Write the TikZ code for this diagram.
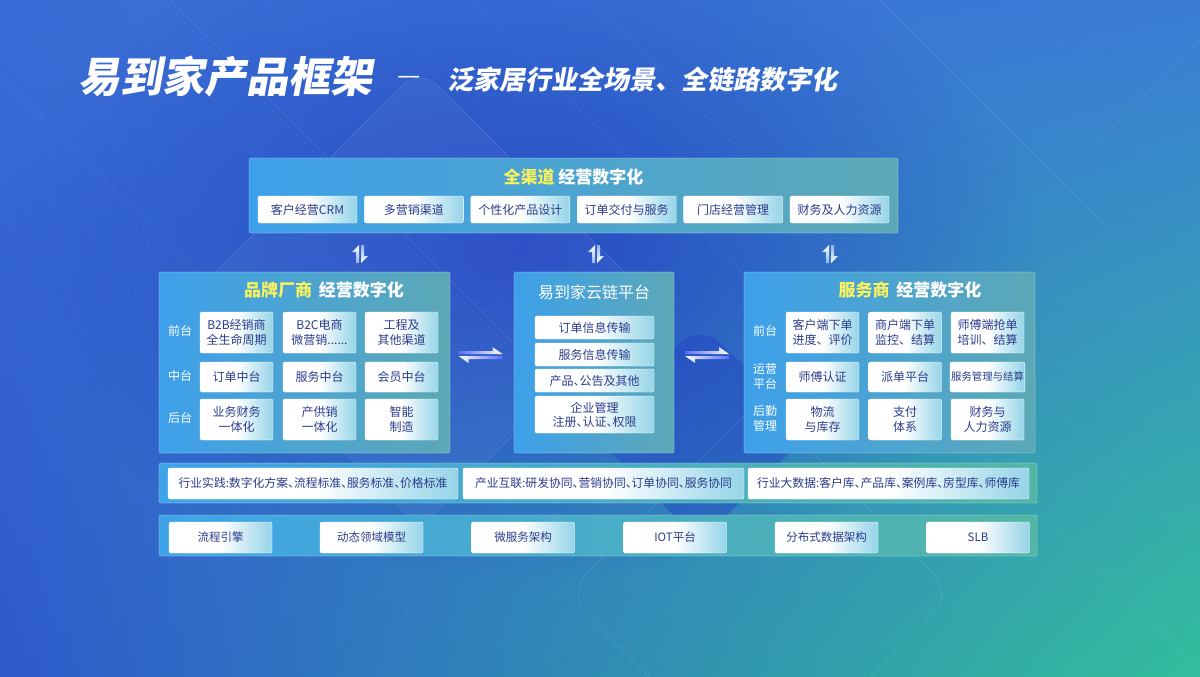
\documentclass[tikz,border=0pt]{standalone}
\usepackage{fontspec}
\setmainfont{Noto Sans CJK SC}
\newfontfamily\ttlfont[FakeSlant=0.18]{Noto Sans CJK SC}
\newfontfamily\hfont[RawFeature=+halt]{Noto Sans CJK SC}
\usetikzlibrary{fadings,shadings}
\tikzfading[name=myfade, inner color=transparent!0, outer color=transparent!100]
\definecolor{bgUL}{HTML}{3A6BD6}
\definecolor{bgUR}{HTML}{3A7BD6}
\definecolor{bgLL}{HTML}{2E5ACC}
\definecolor{bgLR}{HTML}{33BE9C}
\definecolor{bgC}{HTML}{2442C4}
\definecolor{panL}{HTML}{3DA0EA}
\definecolor{panR}{HTML}{5CA8B6}
\definecolor{rowL}{HTML}{3FA3E8}
\definecolor{rowR}{HTML}{52B6A6}
\definecolor{subR}{HTML}{95D4E8}
\definecolor{txt}{HTML}{2B3C8C}
\definecolor{ylw}{HTML}{F7F25E}
\definecolor{afade}{HTML}{8DB2F2}
\pgfdeclarehorizontalshading{subsh}{100bp}{color(0bp)=(white); color(25bp)=(white); color(50bp)=(white); color(75bp)=(subR); color(100bp)=(subR)}
\begin{document}
\begin{tikzpicture}[x=1pt,y=-1pt,
  panel/.style={draw=white, draw opacity=0.25, line width=0.8pt, rounded corners=2pt, left color=panL, right color=panR, inner sep=0pt},
  rowbar/.style={draw=white, draw opacity=0.25, line width=0.8pt, rounded corners=2pt, left color=rowL, right color=rowR, inner sep=0pt},
  sub/.style={draw=white, line width=0.4pt, rounded corners=2pt, shading=subsh, inner sep=1pt, align=center, text=txt, font=\fontsize{12}{14.5}\selectfont},
  lbl/.style={text=white, align=center, font=\fontsize{12}{15}\selectfont},
  ptitle/.style={text=white, font=\fontsize{17}{20}\selectfont\bfseries},
  updown/.pic={
    \shade[top color=white, bottom color=afade] (-1,9) -- (-1,-9) -- (-8,-2) -- (-4,-2) -- (-4,9) -- cycle;
    \shade[top color=afade, bottom color=white] (1,-9) -- (1,9) -- (8,2) -- (4,2) -- (4,-9) -- cycle;
  },
  leftright/.pic={
    \shade[left color=afade!60!blue, right color=white] (-22,-1) -- (22,-1) -- (12,-8) -- (12,-4) -- (-22,-4) -- cycle;
    \shade[left color=white, right color=afade!60!blue] (22,1) -- (-22,1) -- (-12,8) -- (-12,4) -- (22,4) -- cycle;
  }]
\useasboundingbox (0,0) rectangle (1200,677);
% background
\shade[upper left=bgUL, upper right=bgUR, lower left=bgLL, lower right=bgLR] (0,0) rectangle (1200,677);
\fill[bgC, path fading=myfade, opacity=0.85] (520,250) ellipse (520 and 330);
% decorative shapes
\fill[white, opacity=0.04, rounded corners=25] (420,68) -- (650,298) -- (420,528) -- (190,298) -- cycle;
\draw[white, opacity=0.14, line width=0.5pt, rounded corners=25] (420,68) -- (650,298) -- (420,528) -- (190,298) -- cycle;
\fill[bgC, opacity=0.45, rounded corners=30] (700,322) -- (810,432) -- (700,542) -- (590,432) -- cycle;
\draw[white, opacity=0.12, line width=0.5pt, rounded corners=30] (954,594) -- (760,400) -- (566,594) -- (760,788) -- cycle;
\draw[white, opacity=0.12, line width=0.5pt] (170,0) -- (520,350);
\draw[white, opacity=0.10, line width=0.5pt] (0,75) -- (340,415);
\draw[white, opacity=0.10, line width=0.5pt] (470,0) -- (760,290);
\draw[white, opacity=0.10, line width=0.5pt] (590,0) -- (900,310);
\draw[white, opacity=0.10, line width=0.5pt] (880,0) -- (1110,230);
\draw[white, opacity=0.10, line width=0.5pt] (960,430) -- (1200,670);
\draw[white, opacity=0.08, line width=0.5pt] (1040,390) -- (1200,550);
\draw[white, opacity=0.08, line width=0.5pt] (420,600) -- (340,677);
\draw[white, opacity=0.08, line width=0.5pt] (1090,150) -- (1200,40);

% title
\node[anchor=west, text=white, inner sep=0pt, font=\fontsize{42}{46}\selectfont\bfseries\ttlfont] (title) at (78,77) {易到家产品框架};
\node[anchor=west, text=white, inner sep=0pt, font=\fontsize{26}{30}\selectfont] (dash) at (397,80) {—};
\node[anchor=west, text=white, inner sep=0pt, font=\fontsize{26}{30}\selectfont\bfseries\ttlfont] (subtitle) at (447,80) {泛家居行业全场景、全链路数字化};

% top panel
\node[panel, minimum width=649, minimum height=75] (top) at (573.5,195.5) {};
\node[ptitle] (toptitle) at (573.5,177) {\textcolor{ylw}{全渠道} 经营数字化};
\node[sub, minimum width=99, minimum height=27] (t1) at (307.5,209.5) {客户经营CRM};
\node[sub, minimum width=99, minimum height=27] (t2) at (413.9,209.5) {多营销渠道};
\node[sub, minimum width=99, minimum height=27] (t3) at (520.3,209.5) {个性化产品设计};
\node[sub, minimum width=99, minimum height=27] (t4) at (626.7,209.5) {订单交付与服务};
\node[sub, minimum width=99, minimum height=27] (t5) at (733.1,209.5) {门店经营管理};
\node[sub, minimum width=99, minimum height=27] (t6) at (839.5,209.5) {财务及人力资源};

% up-down arrows
\pic (ud1) at (360,254) {updown};
\pic (ud2) at (596,254) {updown};
\pic (ud3) at (830,254) {updown};

% left panel
\node[panel, minimum width=291, minimum height=181] (left) at (304.5,362.5) {};
\node[ptitle] (lefttitle) at (324,290) {\textcolor{ylw}{品牌厂商}\hspace{0.4em}经营数字化};
\node[lbl] (l1) at (180,331) {前台};
\node[lbl] (l2) at (180,376) {中台};
\node[lbl] (l3) at (180,418) {后台};
\node[sub, minimum width=73, minimum height=41] (a11) at (236.5,332.5) {B2B经销商\\全生命周期};
\node[sub, minimum width=73, minimum height=41] (a12) at (319.5,332.5) {B2C电商\\微营销......};
\node[sub, minimum width=73, minimum height=41] (a13) at (401.5,332.5) {工程及\\其他渠道};
\node[sub, minimum width=73, minimum height=30] (a21) at (236.5,377) {订单中台};
\node[sub, minimum width=73, minimum height=30] (a22) at (319.5,377) {服务中台};
\node[sub, minimum width=73, minimum height=30] (a23) at (401.5,377) {会员中台};
\node[sub, minimum width=73, minimum height=41] (a31) at (236.5,419.5) {业务财务\\一体化};
\node[sub, minimum width=73, minimum height=41] (a32) at (319.5,419.5) {产供销\\一体化};
\node[sub, minimum width=73, minimum height=41] (a33) at (401.5,419.5) {智能\\制造};

% middle panel
\node[panel, minimum width=160, minimum height=181] (mid) at (594,362.5) {};
\node[text=white, font=\fontsize{16}{19}\selectfont] (midtitle) at (594,292) {易到家云链平台};
\node[sub, minimum width=119, minimum height=23, font=\fontsize{12}{14}\selectfont\hfont] (m1) at (594.5,327.5) {订单信息传输};
\node[sub, minimum width=119, minimum height=23, font=\fontsize{12}{14}\selectfont\hfont] (m2) at (594.5,354.5) {服务信息传输};
\node[sub, minimum width=119, minimum height=23, font=\fontsize{12}{14}\selectfont\hfont] (m3) at (594.5,380.5) {产品、公告及其他};
\node[sub, minimum width=119, minimum height=37, font=\fontsize{12}{14}\selectfont\hfont] (m4) at (594.5,414.5) {企业管理\\注册、认证、权限};

% left-right arrows
\pic (lr1) at (480.5,355) {leftright};
\pic (lr2) at (707,355) {leftright};

% right panel
\node[panel, minimum width=291, minimum height=181] (right) at (889.5,362.5) {};
\node[ptitle] (righttitle) at (910,290) {\textcolor{ylw}{服务商}\hspace{0.4em}经营数字化};
\node[lbl] (r1) at (765,331) {前台};
\node[lbl] (r2) at (765,376) {运营\\平台};
\node[lbl] (r3) at (765,418) {后勤\\管理};
\node[sub, minimum width=73, minimum height=41] (b11) at (822.5,332.5) {客户端下单\\进度、评价};
\node[sub, minimum width=73, minimum height=41] (b12) at (905,332.5) {商户端下单\\监控、结算};
\node[sub, minimum width=73, minimum height=41] (b13) at (987.5,332.5) {师傅端抢单\\培训、结算};
\node[sub, minimum width=73, minimum height=30] (b21) at (822.5,377) {师傅认证};
\node[sub, minimum width=73, minimum height=30] (b22) at (905,377) {派单平台};
\node[sub, minimum width=73, minimum height=30, font=\fontsize{10.4}{12}\selectfont] (b23) at (987.5,377) {服务管理与结算};
\node[sub, minimum width=73, minimum height=41] (b31) at (822.5,419.5) {物流\\与库存};
\node[sub, minimum width=73, minimum height=41] (b32) at (905,419.5) {支付\\体系};
\node[sub, minimum width=73, minimum height=41] (b33) at (987.5,419.5) {财务与\\人力资源};

% practice row
\node[rowbar, minimum width=878, minimum height=40] (row4) at (598,483) {};
\node[sub, minimum width=290, minimum height=31, font=\fontsize{11.8}{14}\selectfont\hfont] (p1) at (313,483.5) {行业实践:数字化方案、流程标准、服务标准、价格标准};
\node[sub, minimum width=281, minimum height=31, font=\fontsize{11.8}{14}\selectfont\hfont] (p2) at (603.5,483.5) {产业互联:研发协同、营销协同、订单协同、服务协同};
\node[sub, minimum width=281, minimum height=31, font=\fontsize{11.8}{14}\selectfont\hfont] (p3) at (888.5,483.5) {行业大数据:客户库、产品库、案例库、房型库、师傅库};

% technology row
\node[rowbar, minimum width=878, minimum height=41] (row5) at (598,535.5) {};
\node[sub, minimum width=103, minimum height=31, font=\fontsize{11.5}{14}\selectfont] (s1) at (220.5,537.5) {流程引擎};
\node[sub, minimum width=103, minimum height=31, font=\fontsize{11.5}{14}\selectfont] (s2) at (371.5,537.5) {动态领域模型};
\node[sub, minimum width=103, minimum height=31, font=\fontsize{11.5}{14}\selectfont] (s3) at (523,537.5) {微服务架构};
\node[sub, minimum width=103, minimum height=31, font=\fontsize{11.5}{14}\selectfont] (s4) at (675,537.5) {IOT平台};
\node[sub, minimum width=103, minimum height=31, font=\fontsize{11.5}{14}\selectfont] (s5) at (826.5,537.5) {分布式数据架构};
\node[sub, minimum width=103, minimum height=31, font=\fontsize{11.5}{14}\selectfont] (s6) at (978,537.5) {SLB};
\end{tikzpicture}
\end{document}
